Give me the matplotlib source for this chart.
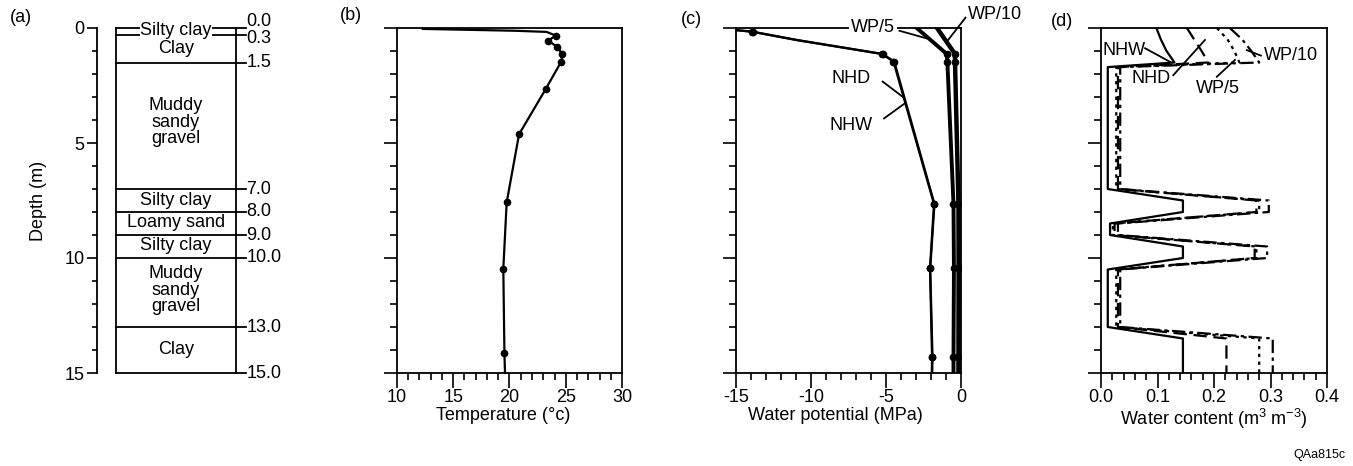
import matplotlib
matplotlib.use("Agg")
import matplotlib.pyplot as plt
from matplotlib.ticker import MultipleLocator

plt.rcParams["font.family"] = ["Liberation Sans", "DejaVu Sans"]
plt.rcParams["mathtext.fontset"] = "custom"
plt.rcParams["mathtext.rm"] = "Liberation Sans"
plt.rcParams["axes.unicode_minus"] = False

# (a) stratigraphy
layer_names = ["Silty clay", "Clay", "Muddy\nsandy\ngravel", "Silty clay", "Loamy sand",
               "Silty clay", "Muddy\nsandy\ngravel", "Clay"]
layer_label_depth = [0.1, 0.9, 4.1, 7.5, 8.45, 9.45, 11.4, 14.0]
boundaries = [0.0, 0.3, 1.5, 7.0, 8.0, 9.0, 10.0, 13.0, 15.0]
boundary_labels = ["0.0", "0.3", "1.5", "7.0", "8.0", "9.0", "10.0", "13.0", "15.0"]
boundary_label_depth = [-0.3, 0.45, 1.5, 7.0, 8.0, 9.0, 10.0, 13.0, 15.0]

# (b) temperature profile
temp_depth = [0.04, 0.08, 0.12, 0.17, 0.33, 0.55, 0.81, 1.13, 1.46, 2.67, 4.62, 7.58, 10.46, 14.15, 15.0]
temp_c = [12.3, 16.5, 20.5, 23.3, 24.1, 23.45, 24.2, 24.7, 24.6, 23.2, 20.85, 19.75, 19.45, 19.55, 19.6]
temp_marked = [4, 5, 6, 7, 8, 9, 10, 11, 12, 13]

# (c) water potential (MPa)
psi_depth = [0.08, 0.16, 0.52, 1.13, 1.46, 7.65, 10.45, 14.3, 15.0]
psi_nhd = [-15.2, -13.95, -11.0, -5.27, -4.5, -1.8, -2.07, -1.93, -1.95]
psi_nhw = [-15.2, -13.9, -10.95, -5.22, -4.45, -1.77, -2.05, -1.9, -1.92]
psi_marked = [1, 3, 4, 5, 6, 7]
wp_depth = [0.0, 1.13, 1.46, 7.65, 10.45, 14.3, 15.0]
psi_wp5 = [-2.95, -0.95, -0.91, -0.5, -0.47, -0.5, -0.5]
psi_wp10 = [-1.6, -0.4, -0.4, -0.17, -0.16, -0.17, -0.17]
wp_marked = [1, 2, 3, 4, 5]

# (d) water content (m3 m-3)
theta_depth = [0.0, 0.5, 1.0, 1.5, 1.7, 7.0, 7.5, 8.0, 8.5, 9.0, 9.5, 10.0, 10.5, 13.0, 13.5, 15.0]
theta_nhw = [0.098, 0.106, 0.116, 0.130, 0.012, 0.012, 0.145, 0.145, 0.016, 0.016, 0.145, 0.145,
             0.012, 0.012, 0.145, 0.145]
theta_nhd = [0.152, 0.165, 0.178, 0.190, 0.030, 0.030, 0.275, 0.275, 0.024, 0.024, 0.272, 0.272,
             0.030, 0.030, 0.222, 0.222]
theta_wp5 = [0.205, 0.224, 0.236, 0.245, 0.027, 0.027, 0.280, 0.280, 0.021, 0.021, 0.275, 0.275,
             0.027, 0.027, 0.280, 0.280]
theta_wp10 = [0.228, 0.250, 0.266, 0.280, 0.034, 0.034, 0.297, 0.297, 0.030, 0.030, 0.294, 0.294,
              0.034, 0.034, 0.304, 0.304]

FIG_W, FIG_H = 1353, 466
AX_TOP, AX_BOT = 28, 373
FS = 13
LW = 1.6


def px_axes(fig, left, right):
    return fig.add_axes([left / FIG_W, (FIG_H - AX_BOT) / FIG_H,
                         (right - left) / FIG_W, (AX_BOT - AX_TOP) / FIG_H])


def depth_axis(ax, labels=False):
    ax.set_ylim(15, 0)
    ax.yaxis.set_major_locator(MultipleLocator(5))
    ax.yaxis.set_minor_locator(MultipleLocator(1))
    ax.tick_params(axis="y", which="major", direction="out", length=9.5, width=1.2,
                   labelleft=labels, labelsize=FS, pad=2)
    ax.tick_params(axis="y", which="minor", direction="out", length=5, width=1.2)
    for s in ax.spines.values():
        s.set_linewidth(1.3)


def x_axis(ax, lo, hi, major, minor, label, lx):
    ax.set_xlim(lo, hi)
    ax.xaxis.set_major_locator(MultipleLocator(major))
    ax.xaxis.set_minor_locator(MultipleLocator(minor))
    ax.tick_params(axis="x", which="major", direction="out", length=10.5, width=1.2,
                   labelsize=FS, pad=1)
    ax.tick_params(axis="x", which="minor", direction="out", length=5, width=1.2)
    ax.set_xlabel(label, fontsize=FS)
    ax.xaxis.set_label_coords(lx, -0.098)


def main():
    fig = plt.figure(figsize=(FIG_W / 100, FIG_H / 100), dpi=100)

    # (a)
    ax = px_axes(fig, 97, 236)
    depth_axis(ax, labels=True)
    ax.tick_params(axis="y", which="major", length=7)
    ax.tick_params(axis="y", which="minor", length=3.5)
    ax.set_xlim(0, 1)
    ax.set_xticks([])
    for s in ["top", "right", "bottom"]:
        ax.spines[s].set_visible(False)
    col_l = (116 - 97) / 139
    ax.plot([col_l, col_l], [0, 15], color="black", lw=1.3, clip_on=False)
    ax.plot([1, 1], [0, 15], color="black", lw=1.3, clip_on=False)
    for b in boundaries:
        ax.plot([col_l, 1], [b, b], color="black", lw=1.3, clip_on=False)
        ax.plot([1, 1.07], [b, b], color="black", lw=1.3, clip_on=False)
    for lab, d in zip(boundary_labels, boundary_label_depth):
        ax.text(1.075, d, lab, fontsize=FS, ha="left", va="center", clip_on=False)
    for name, d in zip(layer_names, layer_label_depth):
        ax.text((col_l + 1) / 2, d, name, fontsize=FS, ha="center", va="center",
                linespacing=0.95, zorder=5,
                bbox=dict(facecolor="white", edgecolor="none", pad=0.3))
    ax.set_ylabel("Depth (m)", fontsize=FS)
    ax.yaxis.set_label_coords(-0.36, 0.5)

    # (b)
    ax = px_axes(fig, 397, 622)
    depth_axis(ax)
    x_axis(ax, 10, 30, 5, 1, "Temperature (°c)", 0.47)
    ax.plot(temp_c, temp_depth, color="black", lw=LW, marker="o", ms=4.5,
            markevery=temp_marked, clip_on=False)

    # (c)
    ax = px_axes(fig, 736, 961)
    depth_axis(ax)
    x_axis(ax, -15, 0, 5, 1, "Water potential (MPa)", 0.44)
    ax.plot(psi_nhd, psi_depth, color="black", lw=LW, marker="o", ms=4.5, markevery=psi_marked)
    ax.plot(psi_nhw, psi_depth, color="black", lw=LW, marker="o", ms=4.5, markevery=psi_marked)
    ax.plot(psi_wp5, wp_depth, color="black", lw=2.8, marker="o", ms=4.5, markevery=wp_marked)
    ax.plot(psi_wp10, wp_depth, color="black", lw=3.2, marker="o", ms=4.5, markevery=wp_marked)
    ax.text(-5.85, 0.0, "WP/5", fontsize=FS, ha="center", va="center", zorder=5,
            clip_on=False, bbox=dict(facecolor="white", edgecolor="none", pad=1.5))
    ax.plot([-4.1, -2.3], [0.12, 0.45], color="black", lw=1.3, clip_on=False)
    ax.text(0.45, -0.6, "WP/10", fontsize=FS, ha="left", va="center", clip_on=False)
    ax.plot([0.3, -0.95], [-0.45, 0.6], color="black", lw=1.3, clip_on=False)
    ax.text(-7.3, 2.19, "NHD", fontsize=FS, ha="center", va="center")
    ax.plot([-5.22, -3.85], [2.33, 3.01], color="black", lw=1.3)
    ax.text(-7.3, 4.22, "NHW", fontsize=FS, ha="center", va="center")
    ax.plot([-5.13, -3.73], [3.93, 3.27], color="black", lw=1.3)

    # (d)
    ax = px_axes(fig, 1101, 1327)
    depth_axis(ax)
    x_axis(ax, 0, 0.4, 0.1, 0.02, "Water content (m$^3$ m$^{-3}$)", 0.5)
    ax.xaxis.set_major_formatter(lambda v, p: f"{v:.1f}")
    ax.plot(theta_nhw, theta_depth, color="black", lw=LW)
    ax.plot(theta_nhd, theta_depth, color="black", lw=LW, dashes=(6, 3))
    ax.plot(theta_wp5, theta_depth, color="black", lw=LW, dashes=(1.5, 2))
    ax.plot(theta_wp10, theta_depth, color="black", lw=LW, dashes=(6, 2, 1.5, 2))
    ax.text(0.002, 0.96, "NHW", fontsize=FS, ha="left", va="center")
    ax.plot([0.078, 0.122], [0.88, 1.47], color="black", lw=1.3)
    ax.text(0.089, 2.2, "NHD", fontsize=FS, ha="center", va="center")
    ax.plot([0.128, 0.184], [2.05, 0.52], color="black", lw=1.3)
    ax.text(0.207, 2.65, "WP/5", fontsize=FS, ha="center", va="center")
    ax.plot([0.205, 0.237], [2.12, 1.39], color="black", lw=1.3)
    ax.text(0.288, 1.2, "WP/10", fontsize=FS, ha="left", va="center")
    ax.plot([0.283, 0.258], [1.2, 0.96], color="black", lw=1.3)

    for lab, x, y in [("(a)", 21, 18), ("(b)", 351, 16), ("(c)", 691, 20), ("(d)", 1062, 21)]:
        fig.text(x / FIG_W, 1 - y / FIG_H, lab, fontsize=FS, ha="center", va="center")
    fig.text(1345 / FIG_W, 1 - 455 / FIG_H, "QAa815c", fontsize=9, ha="right", va="center")

    fig.savefig("out.png", dpi=100)


if __name__ == "__main__":
    main()
